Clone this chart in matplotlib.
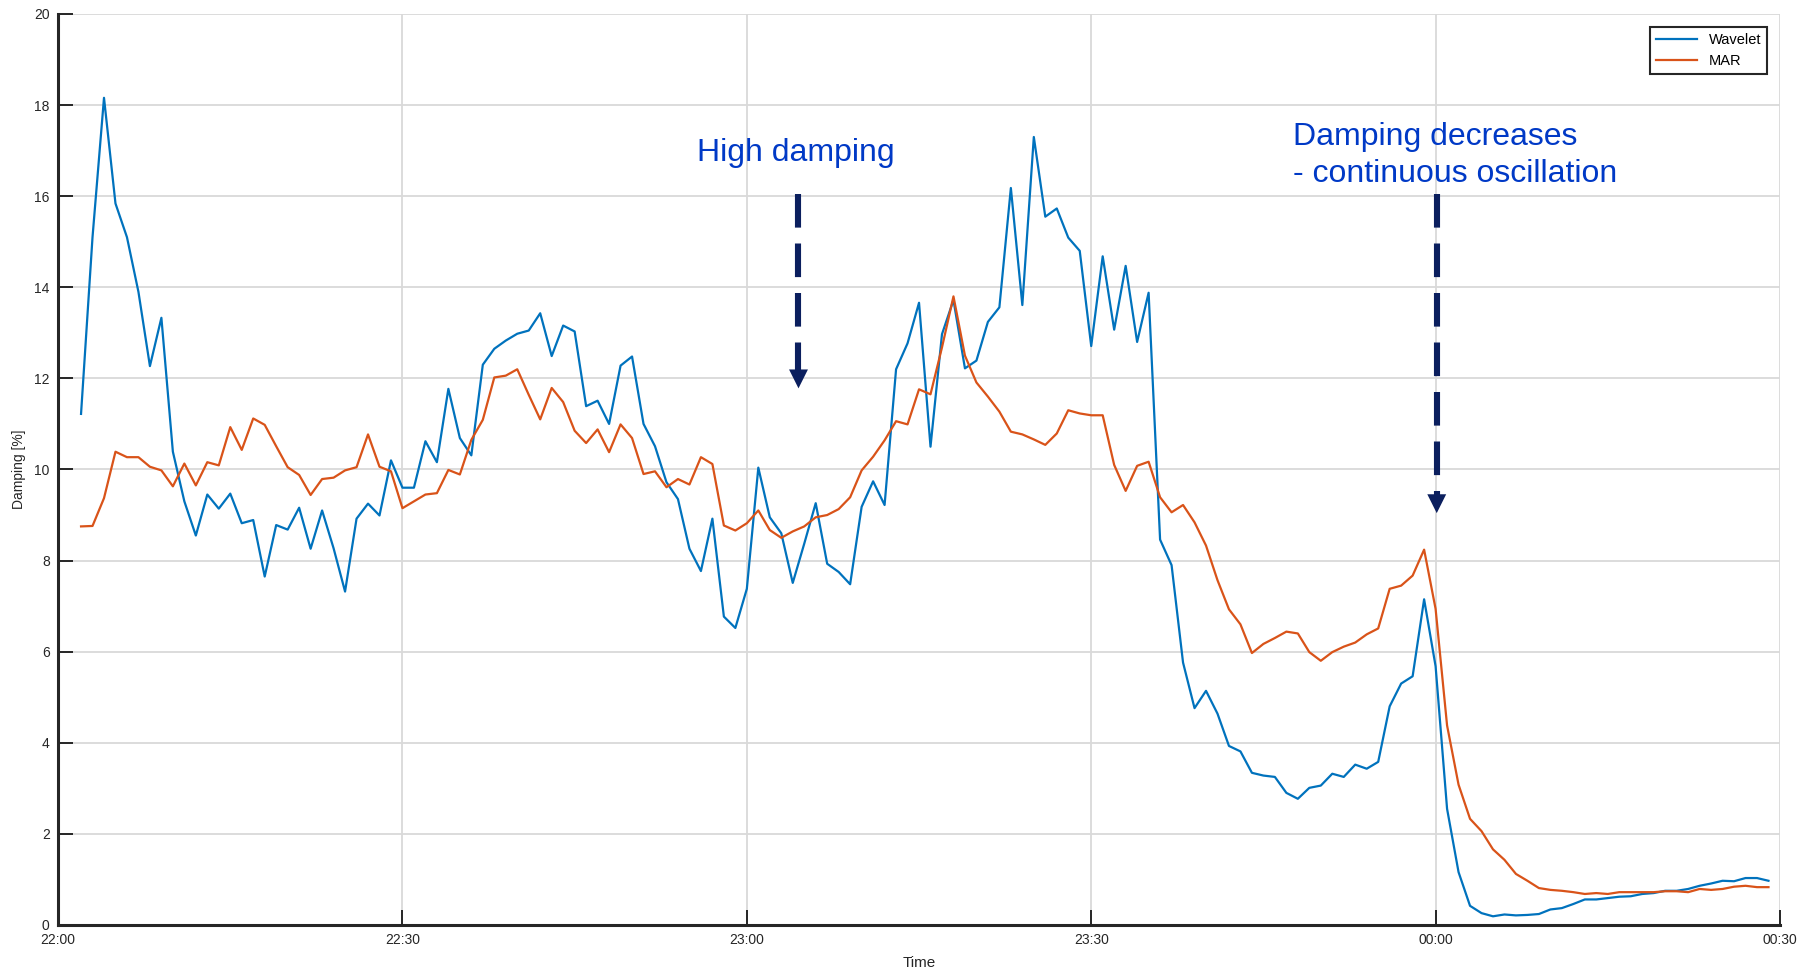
import matplotlib
matplotlib.use("Agg")
import matplotlib.pyplot as plt
import numpy as np

# minutes after 22:00, one estimate per minute
minutes = np.arange(2, 150)

wavelet = [11.22, 15.1, 18.16, 15.84, 15.1, 13.9, 12.27, 13.33, 10.39, 9.3,
           8.55, 9.45, 9.14, 9.47, 8.82, 8.89, 7.65, 8.78, 8.68, 9.16,
           8.26, 9.1, 8.27, 7.32, 8.92, 9.25, 8.99, 10.2, 9.6, 9.6,
           10.62, 10.16, 11.77, 10.69, 10.31, 12.3, 12.65, 12.83, 12.98, 13.05,
           13.43, 12.49, 13.16, 13.03, 11.39, 11.51, 11.0, 12.28, 12.48, 11.0,
           10.51, 9.72, 9.35, 8.26, 7.77, 8.92, 6.77, 6.52, 7.38, 10.04,
           8.95, 8.6, 7.51, 8.37, 9.26, 7.93, 7.75, 7.48, 9.18, 9.74,
           9.22, 12.2, 12.77, 13.66, 10.5, 12.97, 13.72, 12.22, 12.39, 13.24,
           13.56, 16.18, 13.61, 17.3, 15.55, 15.73, 15.09, 14.8, 12.71, 14.68,
           13.07, 14.47, 12.8, 13.88, 8.46, 7.9, 5.76, 4.76, 5.14, 4.64,
           3.93, 3.81, 3.34, 3.28, 3.25, 2.9, 2.77, 3.01, 3.06, 3.32,
           3.25, 3.52, 3.43, 3.58, 4.8, 5.3, 5.46, 7.15, 5.68, 2.55,
           1.16, 0.42, 0.26, 0.19, 0.23, 0.21, 0.22, 0.24, 0.34, 0.37,
           0.46, 0.56, 0.56, 0.59, 0.62, 0.63, 0.68, 0.7, 0.75, 0.75,
           0.79, 0.86, 0.91, 0.97, 0.96, 1.03, 1.03, 0.97]

mar = [8.75, 8.76, 9.37, 10.39, 10.27, 10.27, 10.06, 9.98, 9.63, 10.13,
       9.65, 10.16, 10.09, 10.93, 10.43, 11.12, 10.98, 10.51, 10.05, 9.88,
       9.44, 9.79, 9.82, 9.98, 10.05, 10.77, 10.06, 9.96, 9.15, 9.3,
       9.45, 9.48, 9.99, 9.89, 10.65, 11.09, 12.02, 12.06, 12.2, 11.64,
       11.1, 11.79, 11.48, 10.85, 10.58, 10.88, 10.38, 10.99, 10.69, 9.9,
       9.96, 9.61, 9.79, 9.67, 10.27, 10.12, 8.77, 8.66, 8.82, 9.1,
       8.67, 8.5, 8.64, 8.75, 8.95, 9.0, 9.13, 9.39, 9.98, 10.28,
       10.64, 11.06, 10.99, 11.76, 11.65, 12.68, 13.8, 12.5, 11.91, 11.6,
       11.27, 10.83, 10.77, 10.66, 10.54, 10.79, 11.3, 11.23, 11.19, 11.19,
       10.1, 9.53, 10.08, 10.17, 9.39, 9.06, 9.22, 8.84, 8.33, 7.57,
       6.93, 6.6, 5.97, 6.17, 6.3, 6.44, 6.4, 5.99, 5.8, 5.99,
       6.11, 6.2, 6.38, 6.51, 7.38, 7.45, 7.67, 8.24, 6.94, 4.38,
       3.08, 2.33, 2.06, 1.66, 1.43, 1.12, 0.97, 0.81, 0.77, 0.75,
       0.72, 0.68, 0.7, 0.68, 0.72, 0.72, 0.72, 0.72, 0.74, 0.74,
       0.72, 0.79, 0.77, 0.79, 0.84, 0.86, 0.83, 0.83]

tick_minutes = [0, 30, 60, 90, 120, 150]
tick_labels = ["22:00", "22:30", "23:00", "23:30", "00:00", "00:30"]

plt.rcParams['font.family'] = ['Liberation Sans', 'DejaVu Sans']

fig = plt.figure(figsize=(18.15, 9.72), dpi=100)
ax = fig.add_axes([0.032, 0.0484, 0.9487, 0.9372])

ax.plot(minutes, wavelet, color='#0072BD', lw=1.6, label='Wavelet')
ax.plot(minutes, mar, color='#D95319', lw=1.6, label='MAR')

ax.set_xlim(0, 150)
ax.set_ylim(0, 20)
ax.set_xticks(tick_minutes)
ax.set_xticklabels(tick_labels)
ax.set_yticks(np.arange(0, 21, 2))
ax.grid(True, color='#d9d9d9', lw=1.3)
ax.set_axisbelow(True)

for s in ['top', 'right']:
    ax.spines[s].set_visible(False)
for s in ['left', 'bottom']:
    ax.spines[s].set_linewidth(2.2)
    ax.spines[s].set_color('#262626')
ax.tick_params(direction='in', length=11, width=1.4, colors='#262626',
               labelsize=10, pad=6)

ax.set_xlabel('Time', fontsize=11, color='#262626', labelpad=6)
ax.set_ylabel('Damping [%]', fontsize=10, color='#262626', labelpad=6)

leg = ax.legend(loc='upper right', fontsize=10.5, fancybox=False,
                framealpha=1, edgecolor='#262626', borderaxespad=0.9,
                handlelength=2.8)
leg.get_frame().set_linewidth(1.5)

# annotations
txt_color = '#0039C6'
arrow_color = '#0B1F5E'
ax.text(55.7, 16.95, 'High damping', fontsize=23, color=txt_color,
        ha='left', va='center')
ax.text(107.6, 16.9, 'Damping decreases\n- continuous oscillation',
        fontsize=23, color=txt_color, ha='left', va='center',
        linespacing=1.3)

for x, y_top, y_tip in [(64.5, 16.05, 11.72), (120.1, 16.05, 8.98)]:
    ax.plot([x, x], [y_top, y_tip + 0.4], color=arrow_color, lw=4.4,
            linestyle=(0, (5.5, 2.6)), solid_capstyle='butt')
    ax.annotate('', xy=(x, y_tip), xytext=(x, y_tip + 0.45),
                arrowprops=dict(arrowstyle='-|>', color=arrow_color,
                                lw=0, mutation_scale=34))

fig.savefig('out.png', dpi=100)
